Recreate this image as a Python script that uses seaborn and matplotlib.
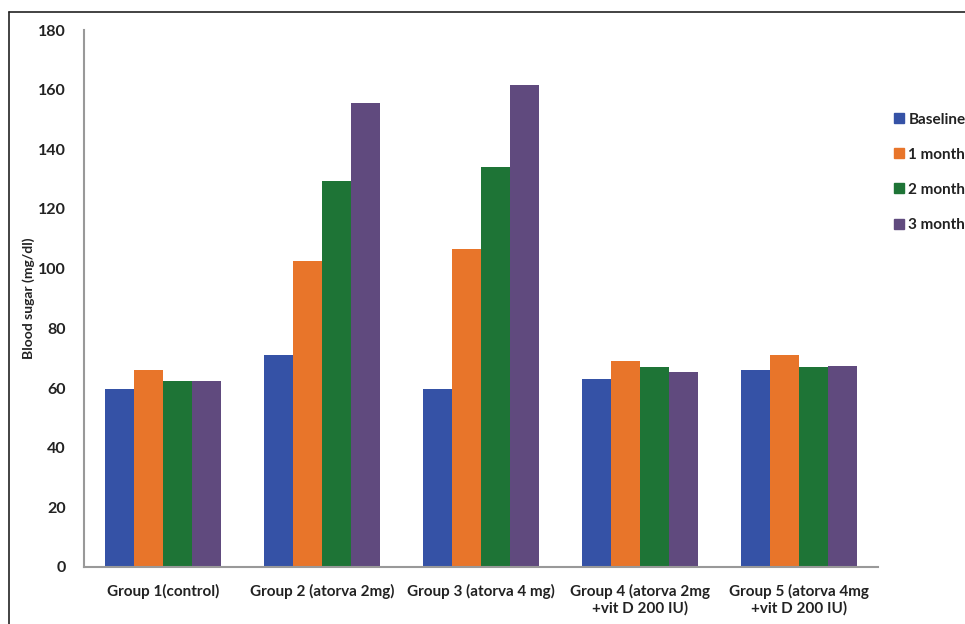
import matplotlib
matplotlib.use("Agg")
import matplotlib.pyplot as plt
import seaborn as sns
import pandas as pd
from matplotlib.lines import Line2D
from matplotlib.ticker import FixedLocator

groups = ["Group 1(control)", "Group 2 (atorva 2mg)", "Group 3 (atorva 4 mg)",
          "Group 4 (atorva 2mg\n+vit D 200 IU)", "Group 5 (atorva 4mg\n+vit D 200 IU)"]
series = ["Baseline", "1 month", "2 month", "3 month"]
baseline = [59.5, 71, 59.5, 63, 66]
month1 = [66, 102.5, 106.5, 69, 71]
month2 = [62.5, 129.5, 134, 67, 67]
month3 = [62.5, 155.5, 161.5, 65.5, 67.5]
colors = ["#3552A6", "#E8752A", "#1E7436", "#604A7E"]
yticks = [0, 20, 40, 60, 80, 100, 120, 140, 160, 180]

rows = []
for s, vals in zip(series, [baseline, month1, month2, month3]):
    for g, v in zip(groups, vals):
        rows.append({"group": g, "series": s, "value": v})
df = pd.DataFrame(rows)

sns.set_style("white")
plt.rcParams["font.family"] = ["Lato", "DejaVu Sans"]

fig = plt.figure(figsize=(9.65, 6.24), dpi=100)
ax = fig.add_axes([84/965, 57/624, (878-84)/965, (567-30)/624])

sns.barplot(data=df, x="group", y="value", hue="series", order=groups,
            hue_order=series, palette=colors, width=0.73, saturation=1,
            errorbar=None, ax=ax, legend=False, linewidth=0)

ax.set_ylim(0, 180)
ax.set_xlim(-0.5, 4.5)
ax.set_yticks(yticks)
ax.set_yticklabels([str(t) for t in yticks], fontsize=11.5, fontweight="bold", color="#222")
ax.set_xticks(range(len(groups)))
ax.set_xticklabels(groups, fontsize=11, fontweight="bold", color="#222")
ax.tick_params(axis="x", which="major", length=0, pad=12)
ax.xaxis.set_minor_locator(FixedLocator([-0.5, 0.5, 1.5, 2.5, 3.5, 4.5]))
ax.tick_params(axis="x", which="minor", length=5, color="#999999", width=1.2)
ax.tick_params(axis="y", length=5, color="#999999", width=1.2, pad=8)
ax.set_xlabel("")
ax.set_ylabel("Blood sugar (mg/dl)", fontsize=10, fontweight="bold", color="#222")
ax.yaxis.set_label_coords(-0.062, 0.5)
for side in ["top", "right"]:
    ax.spines[side].set_visible(False)
for side in ["left", "bottom"]:
    ax.spines[side].set_color("#999999")
    ax.spines[side].set_linewidth(1.5)

handles = [Line2D([0], [0], marker="s", linestyle="", markersize=7,
                  markerfacecolor=c, markeredgecolor=c) for c in colors]
leg = fig.legend(handles, series, loc="upper left", bbox_to_anchor=(884/965, 1 - 105/624),
                 frameon=False, labelspacing=1.38, handletextpad=0.2, handlelength=0.9,
                 borderpad=0, prop={"size": 11, "weight": "bold"})
for t in leg.get_texts():
    t.set_color("#222")

fig.add_artist(Line2D([9/965, 1], [1 - 12/624, 1 - 12/624], transform=fig.transFigure,
                      color="#222", linewidth=1.2))
fig.add_artist(Line2D([9/965, 9/965], [0, 1 - 12/624], transform=fig.transFigure,
                      color="#222", linewidth=1.2))

fig.savefig("out.png", dpi=100)
